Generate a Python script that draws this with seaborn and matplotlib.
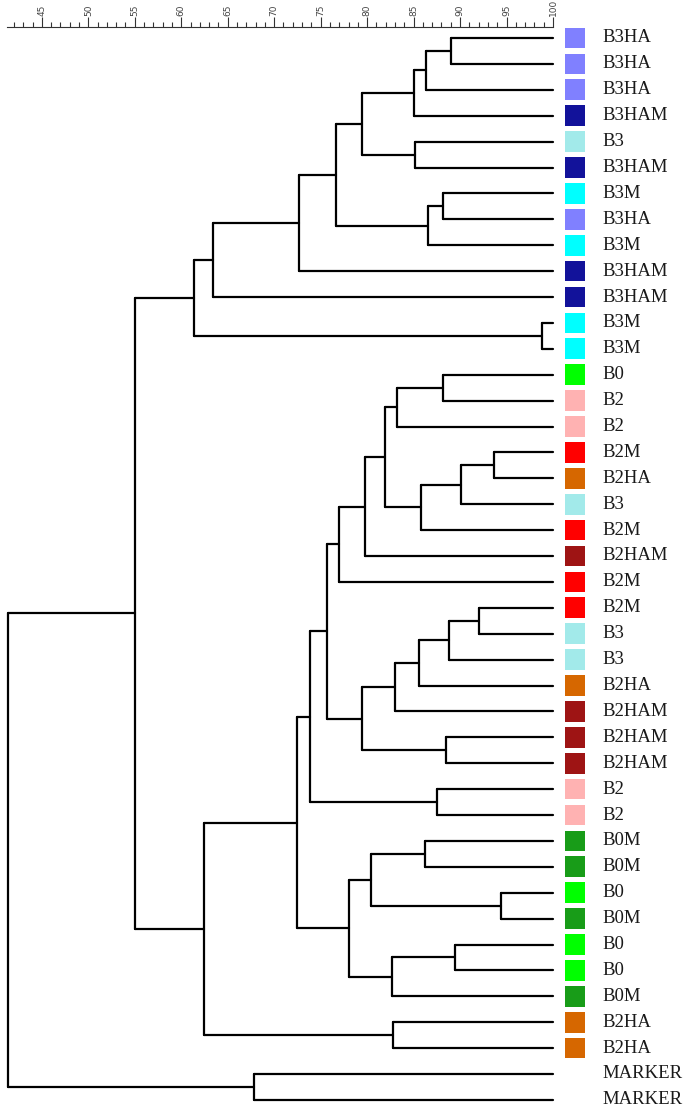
import numpy as np
import pandas as pd
import matplotlib
matplotlib.use("Agg")
import matplotlib.pyplot as plt
import seaborn as sns

# ---- data ----
leaf_labels = ["B3HA", "B3HA", "B3HA", "B3HAM", "B3", "B3HAM", "B3M", "B3HA", "B3M",
               "B3HAM", "B3HAM", "B3M", "B3M", "B0", "B2", "B2", "B2M", "B2HA", "B3",
               "B2M", "B2HAM", "B2M", "B2M", "B3", "B3", "B2HA", "B2HAM", "B2HAM",
               "B2HAM", "B2", "B2", "B0M", "B0M", "B0", "B0M", "B0", "B0", "B0M",
               "B2HA", "B2HA", "MARKER", "MARKER"]

# merges: (child_a, child_b, similarity); leaves are 0..41, new nodes 42..
merge_a = [0, 42, 43, 4, 44, 6, 47, 46, 49, 50, 11, 51,
           13, 54, 16, 56, 57, 55, 59, 60, 22, 62, 63, 64, 27, 65, 61, 29, 68,
           31, 33, 71, 35, 74, 73, 70, 38, 77, 53, 40, 80]
merge_b = [1, 2, 3, 5, 45, 7, 8, 48, 9, 10, 12, 52,
           14, 15, 17, 18, 19, 58, 20, 21, 23, 24, 25, 26, 28, 66, 67, 30, 69,
           32, 34, 72, 36, 37, 75, 76, 39, 78, 79, 41, 81]
merge_h = [89.0, 86.3, 85.0, 85.2, 79.4, 88.2, 86.5, 76.6, 72.7, 63.4, 98.8, 61.4,
           88.2, 83.2, 93.7, 90.1, 85.8, 81.9, 79.8, 77.0, 92.0, 88.8, 85.6, 83.0,
           88.5, 79.4, 75.7, 87.5, 73.9, 86.2, 94.4, 80.4, 89.5, 82.7, 78.0, 72.5,
           82.8, 62.5, 55.0, 67.8, 41.35]

group_colors = {
    "B3HA": "#8080FF", "B3HAM": "#12129A", "B3": "#A2EAEA", "B3M": "#00FFFF",
    "B0": "#00FF00", "B2": "#FFB2B2", "B2M": "#FF0000", "B2HA": "#D66700",
    "B2HAM": "#9E1414", "B0M": "#189C18",
}

tick_major = [45, 50, 55, 60, 65, 70, 75, 80, 85, 90, 95, 100]

# ---- build dendrogram segments ----
n = len(leaf_labels)
pos_x = {i: 100.0 for i in range(n)}
pos_y = {i: float(i) for i in range(n)}
rows = []
seg = 0
for k, (a, b, h) in enumerate(zip(merge_a, merge_b, merge_h)):
    node = n + k
    for c in (a, b):
        rows.append((seg, pos_x[c], pos_y[c])); rows.append((seg, h, pos_y[c])); seg += 1
    rows.append((seg, h, pos_y[a])); rows.append((seg, h, pos_y[b])); seg += 1
    pos_x[node] = h
    pos_y[node] = (pos_y[a] + pos_y[b]) / 2
df = pd.DataFrame(rows, columns=["seg", "x", "y"])

sns.set_theme(style="white")
plt.rcParams["font.family"] = ["DejaVu Sans"]

W, H = 685, 1110
fig = plt.figure(figsize=(W / 100, H / 100), dpi=100)
x0_px, x1_px, top_px = 7, 553, 27
ax = fig.add_axes([x0_px / W, 0, (x1_px - x0_px) / W, (H - top_px) / H])

sns.lineplot(data=df, x="x", y="y", units="seg", estimator=None, sort=False,
             color="black", linewidth=1.6, ax=ax, legend=False)
for l in ax.lines:
    l.set_clip_on(False)

xmin = 41.25
ax.set_xlim(xmin, 100)
y_top = (top_px - 38) / 25.9
y_bot = (H - 38) / 25.9
ax.set_ylim(y_bot, y_top)

# squares and labels
sq = pd.DataFrame({"x": [102.35] * n, "y": np.arange(n), "g": leaf_labels})
sq = sq[sq["g"] != "MARKER"]
sns.scatterplot(data=sq, x="x", y="y", hue="g", palette=group_colors, marker="s",
                s=220, linewidth=0, legend=False, ax=ax)
for c in ax.collections:
    c.set_clip_on(False)
for i, lab in enumerate(leaf_labels):
    ax.text(105.3, i, lab, ha="left", va="center", fontsize=13.5,
            family="Liberation Serif", color="#1a1a1a", clip_on=False)

# top axis
ax.xaxis.set_ticks_position("top")
ax.xaxis.set_label_position("top")
ax.set_xticks(tick_major)
ax.set_xticklabels([str(t) for t in tick_major], rotation=90, fontsize=6.5, color="#444444")
ax.set_xticks(np.arange(42, 100, 1), minor=True)
ax.tick_params(axis="x", which="major", direction="out", length=7, width=0.8,
               color="#333333", pad=1, top=True, bottom=False)
ax.tick_params(axis="x", which="minor", direction="out", length=3.5, width=0.8,
               color="#333333", top=True, bottom=False)
ax.set_yticks([])
ax.set_xlabel("")
ax.set_ylabel("")
for s in ["left", "right", "bottom"]:
    ax.spines[s].set_visible(False)
ax.spines["top"].set_visible(True)
ax.spines["top"].set_color("#333333")
ax.spines["top"].set_linewidth(0.8)
ax.patch.set_alpha(0)

fig.savefig("out.png", dpi=100)
